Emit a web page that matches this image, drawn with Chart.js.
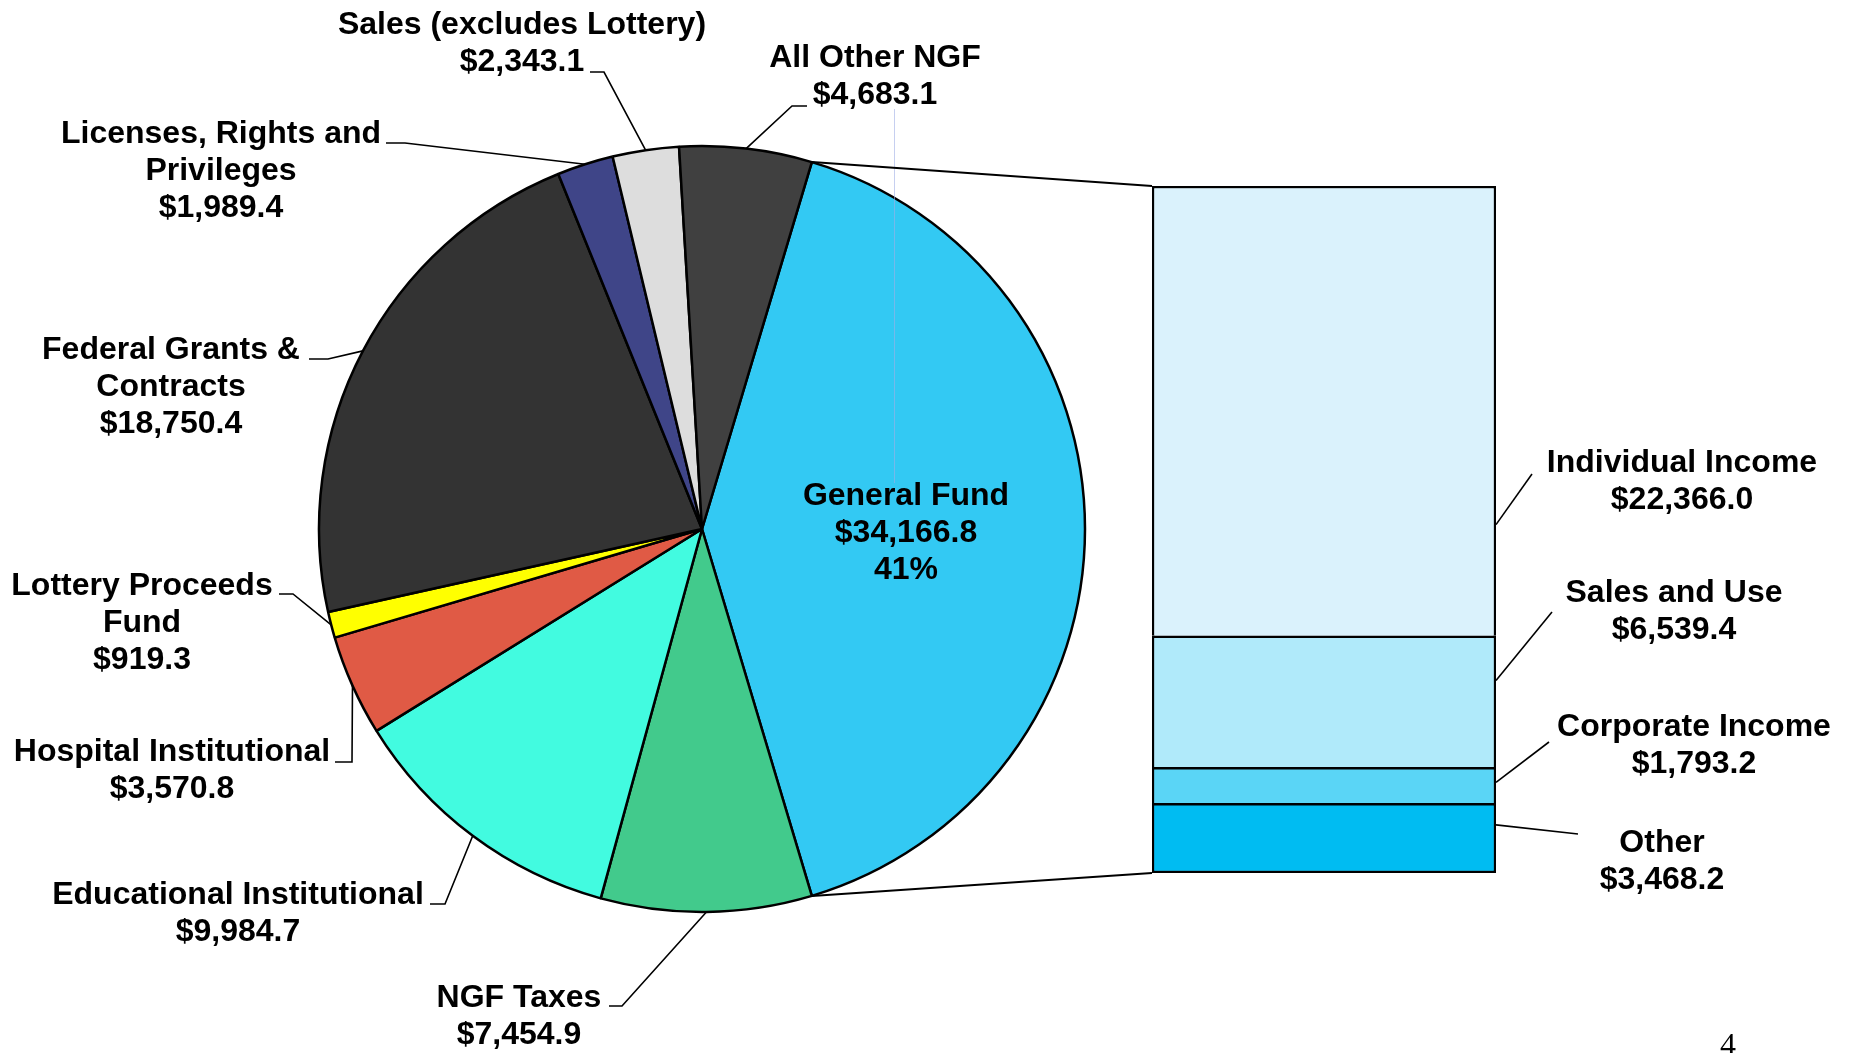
<!DOCTYPE html>
<html>
<head>
<meta charset="utf-8">
<script src="https://cdn.jsdelivr.net/npm/chart.js@4.4.1/dist/chart.umd.min.js"></script>
<style>
html, body { margin: 0; padding: 0; background: #fff; overflow: hidden; }
#wrap { position: relative; width: 1858px; height: 1053px; }
#wrap canvas { position: absolute; left: 0; top: 0; }
</style>
</head>
<body>
<div id="wrap">
	<canvas id="barChart" width="1858" height="1053"></canvas>
	<canvas id="pieChart" width="1858" height="1053"></canvas>
</div>
<script>
// pie slices, clockwise from the General Fund slice
var pieLabels = [
	['General Fund'],
	['NGF Taxes'],
	['Educational Institutional'],
	['Hospital Institutional'],
	['Lottery Proceeds', 'Fund'],
	['Federal Grants &', 'Contracts'],
	['Licenses, Rights and', 'Privileges'],
	['Sales (excludes Lottery)'],
	['All Other NGF']
];
var pieValues = [34166.8, 7454.9, 9984.7, 3570.8, 919.3, 18750.4, 1989.4, 2343.1, 4683.1];
var pieColors = ['#33c9f3', '#42ca8c', '#42fbe0', '#e05a45', '#ffff00', '#333333', '#3f4588', '#dddddd', '#404040'];

// General Fund breakdown, top of the bar to bottom
var gfLabels = ['Individual Income', 'Sales and Use', 'Corporate Income', 'Other'];
var gfValues = [22366.0, 6539.4, 1793.2, 3468.2];
var gfColors = ['#daf2fc', '#b0eafa', '#5ad5f6', '#00bcf2'];

var FONT = 'bold 32px "Liberation Sans", Arial, sans-serif';
var LINE_H = 37;

// label placement (text centre x, first baseline y, leader elbow points)
var pieLabelPos = [
	null,
	{x: 519, y: 1007, leader: [[609, 1006], [622, 1006]]},
	{x: 238, y: 904, leader: [[430, 904], [445, 904]]},
	{x: 172, y: 761, leader: [[335, 762], [352, 762]]},
	{x: 142, y: 595, leader: [[279, 594], [293, 594]]},
	{x: 171, y: 359, leader: [[309, 359], [328, 359]]},
	{x: 221, y: 143, leader: [[386, 143], [405, 143]]},
	{x: 522, y: 34, leader: [[590, 72], [604, 72]]},
	{x: 875, y: 67, leader: [[807, 106], [792, 106]]}
];
var gfLabelPos = [
	{x: 1682, y: 472, from: 0.753, to: [1532, 474]},
	{x: 1674, y: 602, from: 0.34, to: [1552, 612]},
	{x: 1694, y: 736, from: 0.42, to: [1549, 742]},
	{x: 1662, y: 852, from: 0.31, to: [1578, 834]}
];

function money(v) {
	return '$' + v.toLocaleString('en-US', {minimumFractionDigits: 1, maximumFractionDigits: 1});
}

var pieTotal = pieValues.reduce(function (a, b) { return a + b; }, 0);
var gfTotal = gfValues.reduce(function (a, b) { return a + b; }, 0);

// stacked bar: first dataset sits at the bottom
var barSets = [];
for (var i = gfValues.length - 1; i >= 0; i--) {
	barSets.push({
		label: gfLabels[i],
		data: [gfValues[i]],
		backgroundColor: gfColors[i],
		borderColor: '#000',
		borderWidth: {top: 2.5, left: 2.5, right: 2.5, bottom: i === gfValues.length - 1 ? 2.5 : 0},
		borderSkipped: false,
		barPercentage: 1,
		categoryPercentage: 1,
		stack: 'gf'
	});
}

var barChart = new Chart(document.getElementById('barChart'), {
	type: 'bar',
	data: {labels: ['General Fund'], datasets: barSets},
	options: {
		responsive: false,
		animation: false,
		events: [],
		layout: {padding: {left: 1152, right: 362, top: 186, bottom: 180}},
		scales: {
			x: {display: false, stacked: true},
			y: {display: false, stacked: true, min: 0, max: gfTotal}
		},
		plugins: {legend: {display: false}, tooltip: {enabled: false}}
	}
});

function drawLines(ctx, lines, x, y) {
	lines.forEach(function (t, k) {
		ctx.fillText(t, x, y + k * LINE_H);
	});
}

var labelPlugin = {
	id: 'labels',
	afterDraw: function (chart) {
		var ctx = chart.ctx;
		var arcs = chart.getDatasetMeta(0).data;
		ctx.save();
		ctx.strokeStyle = '#000';
		ctx.fillStyle = '#000';
		ctx.font = FONT;
		ctx.textAlign = 'center';
		ctx.textBaseline = 'alphabetic';

		// faint guide line left over in the original slide
		ctx.strokeStyle = 'rgba(160,175,230,0.6)';
		ctx.lineWidth = 1;
		ctx.beginPath();
		ctx.moveTo(894.5, 109);
		ctx.lineTo(894.5, 483);
		ctx.stroke();
		ctx.strokeStyle = '#000';

		// connectors from the General Fund slice to the bar
		var gf = arcs[0];
		var r = gf.outerRadius;
		var metaTop = barChart.getDatasetMeta(barSets.length - 1).data[0];
		var metaBot = barChart.getDatasetMeta(0).data[0];
		var barLeft = metaTop.x - metaTop.width / 2;
		var barRight = metaTop.x + metaTop.width / 2;
		ctx.lineWidth = 2;
		ctx.beginPath();
		ctx.moveTo(gf.x + r * Math.cos(gf.startAngle), gf.y + r * Math.sin(gf.startAngle));
		ctx.lineTo(barLeft, metaTop.y);
		ctx.moveTo(gf.x + r * Math.cos(gf.endAngle), gf.y + r * Math.sin(gf.endAngle));
		ctx.lineTo(barLeft, metaBot.base);
		ctx.stroke();

		// pie labels with leaders
		ctx.lineWidth = 1.6;
		arcs.forEach(function (a, i) {
			var lines = pieLabels[i].concat([money(pieValues[i])]);
			if (i === 0) {
				lines.push(Math.round(pieValues[i] / pieTotal * 100) + '%');
				drawLines(ctx, lines, 906, 505);
				return;
			}
			var p = pieLabelPos[i];
			drawLines(ctx, lines, p.x, p.y);
			var mid = (a.startAngle + a.endAngle) / 2;
			ctx.beginPath();
			ctx.moveTo(p.leader[0][0], p.leader[0][1]);
			ctx.lineTo(p.leader[1][0], p.leader[1][1]);
			ctx.lineTo(a.x + a.outerRadius * Math.cos(mid), a.y + a.outerRadius * Math.sin(mid));
			ctx.stroke();
		});

		// bar labels with leaders
		gfValues.forEach(function (v, i) {
			var el = barChart.getDatasetMeta(gfValues.length - 1 - i).data[0];
			var p = gfLabelPos[i];
			drawLines(ctx, [gfLabels[i], money(v)], p.x, p.y);
			ctx.beginPath();
			ctx.moveTo(barRight, el.y + (el.base - el.y) * p.from);
			ctx.lineTo(p.to[0], p.to[1]);
			ctx.stroke();
		});

		// slide number
		ctx.font = '32px "Liberation Serif", "Times New Roman", serif';
		ctx.fillText('4', 1728, 1055);
		ctx.restore();
	}
};

var pieChart = new Chart(document.getElementById('pieChart'), {
	type: 'pie',
	data: {
		labels: pieLabels.map(function (l) { return l.join(' '); }),
		datasets: [{
			data: pieValues,
			backgroundColor: pieColors,
			borderColor: '#000',
			borderWidth: 2.5
		}]
	},
	options: {
		responsive: false,
		animation: false,
		events: [],
		radius: 383,
		rotation: 90 - pieValues[0] / pieTotal * 180,
		layout: {padding: {left: 319, right: 773, top: 146, bottom: 141}},
		plugins: {legend: {display: false}, tooltip: {enabled: false}}
	},
	plugins: [labelPlugin]
});
</script>
</body>
</html>
